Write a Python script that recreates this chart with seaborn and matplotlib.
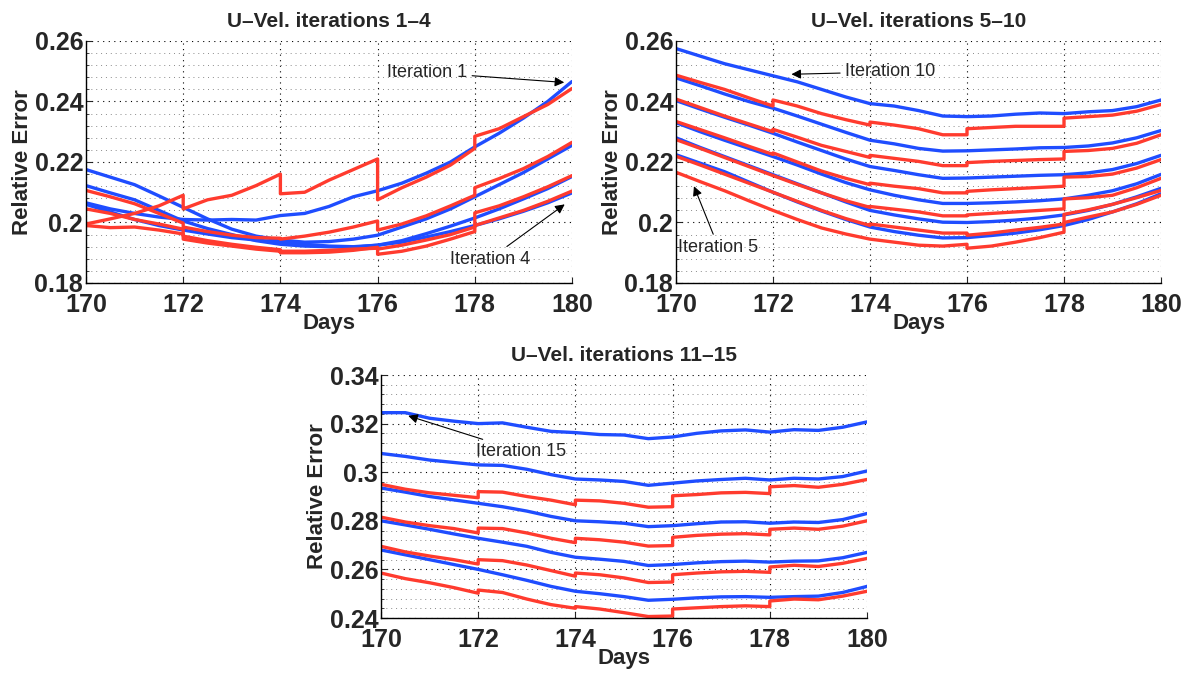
import numpy as np
import pandas as pd
import matplotlib
matplotlib.use("Agg")
import matplotlib.pyplot as plt
import seaborn as sns
from matplotlib import font_manager
from matplotlib.ticker import MultipleLocator, FuncFormatter

# ---- data ----
# blue: half-day samples; red: restarts every 2 days (so the day repeats at the jumps)
days_blue = [170, 170.5, 171, 171.5, 172, 172.5, 173, 173.5, 174, 174.5, 175,
             175.5, 176, 176.5, 177, 177.5, 178, 178.5, 179, 179.5, 180]
days_red = [170, 170.5, 171, 171.5, 172,
            172, 172.5, 173, 173.5, 174,
            174, 174.5, 175, 175.5, 176,
            176, 176.5, 177, 177.5, 178,
            178, 178.5, 179, 179.5, 180]

# panel 1: iterations 1-4
p1_blue_1 = [0.2065, 0.2045, 0.2030, 0.2018, 0.2010, 0.2008, 0.2010, 0.2008, 0.2023, 0.2030, 0.2053,
             0.2085, 0.2105, 0.2130, 0.2163, 0.2200, 0.2250, 0.2295, 0.2345, 0.2400, 0.2466]
p1_blue_2 = [0.2175, 0.2150, 0.2125, 0.2088, 0.2050, 0.2012, 0.1978, 0.1955, 0.1942, 0.1935, 0.1937,
             0.1945, 0.1958, 0.1985, 0.2012, 0.2045, 0.2085, 0.2125, 0.2165, 0.2210, 0.2255]
p1_blue_3 = [0.2122, 0.2098, 0.2075, 0.2040, 0.2005, 0.1980, 0.1960, 0.1940, 0.1928, 0.1922, 0.1920,
             0.1918, 0.1925, 0.1940, 0.1963, 0.1988, 0.2015, 0.2045, 0.2078, 0.2112, 0.2152]
p1_blue_4 = [0.2060, 0.2035, 0.2010, 0.1990, 0.1975, 0.1962, 0.1950, 0.1942, 0.1935, 0.1928, 0.1922,
             0.1920, 0.1925, 0.1935, 0.1952, 0.1970, 0.1990, 0.2012, 0.2037, 0.2065, 0.2098]

p1_red_1 = [0.1995, 0.2012, 0.2030, 0.2055, 0.2090,
            0.2045, 0.2075, 0.2090, 0.2122, 0.2160,
            0.2095, 0.2100, 0.2140, 0.2175, 0.2210,
            0.2075, 0.2115, 0.2150, 0.2190, 0.2245,
            0.2285, 0.2310, 0.2350, 0.2390, 0.2443]
p1_red_2 = [0.2106, 0.2085, 0.2062, 0.2030, 0.1998,
            0.1985, 0.1970, 0.1958, 0.1950, 0.1948,
            0.1945, 0.1955, 0.1968, 0.1985, 0.2005,
            0.1975, 0.1995, 0.2022, 0.2055, 0.2090,
            0.2115, 0.2145, 0.2178, 0.2218, 0.2265]
p1_red_3 = [0.2045, 0.2030, 0.2010, 0.1995, 0.1978,
            0.1945, 0.1932, 0.1922, 0.1912, 0.1905,
            0.1900, 0.1900, 0.1902, 0.1908, 0.1918,
            0.1895, 0.1905, 0.1922, 0.1945, 0.1970,
            0.2032, 0.2055, 0.2085, 0.2118, 0.2155]
p1_red_4 = [0.1990, 0.1983, 0.1985, 0.1975, 0.1962,
            0.1955, 0.1940, 0.1928, 0.1918, 0.1910,
            0.1905, 0.1905, 0.1908, 0.1912, 0.1915,
            0.1912, 0.1925, 0.1942, 0.1960, 0.1985,
            0.1990, 0.2015, 0.2040, 0.2070, 0.2104]

# panel 2: iterations 5-10
p2_blue_10 = [0.2575, 0.2550, 0.2525, 0.2505, 0.2485, 0.2465, 0.2440, 0.2415, 0.2393, 0.2385, 0.2370,
              0.2352, 0.2350, 0.2352, 0.2358, 0.2362, 0.2360, 0.2366, 0.2370, 0.2383, 0.2405]
p2_blue_9 = [0.2478, 0.2452, 0.2425, 0.2400, 0.2378, 0.2352, 0.2325, 0.2298, 0.2272, 0.2260, 0.2245,
             0.2236, 0.2237, 0.2240, 0.2243, 0.2247, 0.2248, 0.2253, 0.2263, 0.2280, 0.2304]
p2_blue_8 = [0.2403, 0.2375, 0.2348, 0.2322, 0.2295, 0.2266, 0.2238, 0.2210, 0.2185, 0.2172, 0.2158,
             0.2146, 0.2147, 0.2150, 0.2153, 0.2156, 0.2158, 0.2164, 0.2175, 0.2195, 0.2222]
p2_blue_7 = [0.2330, 0.2300, 0.2272, 0.2245, 0.2218, 0.2190, 0.2160, 0.2132, 0.2108, 0.2090, 0.2075,
             0.2063, 0.2063, 0.2065, 0.2068, 0.2072, 0.2078, 0.2090, 0.2105, 0.2128, 0.2159]
p2_blue_6 = [0.2280, 0.2248, 0.2218, 0.2188, 0.2158, 0.2128, 0.2098, 0.2068, 0.2040, 0.2025, 0.2012,
             0.2001, 0.2000, 0.2003, 0.2008, 0.2015, 0.2025, 0.2040, 0.2060, 0.2085, 0.2113]
p2_blue_5 = [0.2224, 0.2196, 0.2168, 0.2134, 0.2100, 0.2068, 0.2038, 0.2010, 0.1985, 0.1970, 0.1958,
             0.1949, 0.1950, 0.1957, 0.1965, 0.1976, 0.1990, 0.2010, 0.2035, 0.2062, 0.2095]

p2_red_a = [0.2487, 0.2463, 0.2440, 0.2412, 0.2385,
            0.2405, 0.2385, 0.2360, 0.2340, 0.2322,
            0.2332, 0.2322, 0.2310, 0.2290, 0.2290,
            0.2310, 0.2314, 0.2318, 0.2318, 0.2318,
            0.2345, 0.2350, 0.2355, 0.2368, 0.2390]
p2_red_b = [0.2408, 0.2380, 0.2352, 0.2326, 0.2300,
            0.2308, 0.2282, 0.2255, 0.2235, 0.2215,
            0.2222, 0.2212, 0.2202, 0.2188, 0.2188,
            0.2198, 0.2202, 0.2205, 0.2208, 0.2210,
            0.2235, 0.2238, 0.2245, 0.2262, 0.2290]
p2_red_c = [0.2334, 0.2307, 0.2280, 0.2252, 0.2225,
            0.2230, 0.2200, 0.2170, 0.2146, 0.2125,
            0.2130, 0.2120, 0.2112, 0.2098, 0.2098,
            0.2103, 0.2108, 0.2112, 0.2116, 0.2120,
            0.2150, 0.2152, 0.2160, 0.2180, 0.2208]
p2_red_d = [0.2274, 0.2245, 0.2215, 0.2185, 0.2155,
            0.2155, 0.2126, 0.2098, 0.2072, 0.2050,
            0.2053, 0.2044, 0.2035, 0.2022, 0.2022,
            0.2025, 0.2030, 0.2035, 0.2040, 0.2045,
            0.2078, 0.2082, 0.2090, 0.2115, 0.2146]
p2_red_e = [0.2219, 0.2190, 0.2160, 0.2130, 0.2100,
            0.2100, 0.2070, 0.2040, 0.2013, 0.1990,
            0.1995, 0.1985, 0.1975, 0.1965, 0.1965,
            0.1958, 0.1965, 0.1975, 0.1984, 0.1995,
            0.2027, 0.2042, 0.2060, 0.2082, 0.2106]
p2_red_f = [0.2166, 0.2135, 0.2105, 0.2072, 0.2040,
            0.2040, 0.2010, 0.1982, 0.1962, 0.1945,
            0.1945, 0.1935, 0.1925, 0.1922, 0.1928,
            0.1915, 0.1922, 0.1935, 0.1950, 0.1968,
            0.2000, 0.2018, 0.2035, 0.2060, 0.2090]

# panel 3: iterations 11-15
p3_blue_15 = [0.3245, 0.3245, 0.3222, 0.3210, 0.3200, 0.3203, 0.3185, 0.3168, 0.3163, 0.3155, 0.3153,
              0.3138, 0.3145, 0.3160, 0.3170, 0.3174, 0.3165, 0.3175, 0.3172, 0.3185, 0.3207]
p3_blue_14 = [0.3077, 0.3065, 0.3050, 0.3040, 0.3030, 0.3028, 0.3012, 0.2990, 0.2972, 0.2968, 0.2962,
              0.2946, 0.2955, 0.2964, 0.2970, 0.2975, 0.2968, 0.2975, 0.2972, 0.2982, 0.3005]
p3_blue_13 = [0.2935, 0.2918, 0.2900, 0.2886, 0.2872, 0.2858, 0.2840, 0.2818, 0.2800, 0.2796, 0.2790,
              0.2776, 0.2780, 0.2788, 0.2795, 0.2796, 0.2790, 0.2795, 0.2793, 0.2805, 0.2830]
p3_blue_12 = [0.2800, 0.2783, 0.2765, 0.2746, 0.2728, 0.2712, 0.2695, 0.2670, 0.2650, 0.2642, 0.2633,
              0.2616, 0.2620, 0.2627, 0.2632, 0.2634, 0.2630, 0.2634, 0.2635, 0.2648, 0.2670]
p3_blue_11 = [0.2680, 0.2660, 0.2640, 0.2620, 0.2600, 0.2578, 0.2555, 0.2530, 0.2510, 0.2500, 0.2488,
              0.2473, 0.2477, 0.2483, 0.2487, 0.2488, 0.2485, 0.2488, 0.2490, 0.2505, 0.2530]

p3_red_a = [0.2950, 0.2930, 0.2915, 0.2905, 0.2895,
            0.2920, 0.2918, 0.2900, 0.2885, 0.2866,
            0.2885, 0.2882, 0.2872, 0.2856, 0.2858,
            0.2903, 0.2908, 0.2915, 0.2917, 0.2912,
            0.2940, 0.2945, 0.2938, 0.2950, 0.2970]
p3_red_b = [0.2815, 0.2795, 0.2780, 0.2768, 0.2750,
            0.2770, 0.2768, 0.2750, 0.2728, 0.2710,
            0.2728, 0.2722, 0.2712, 0.2696, 0.2698,
            0.2732, 0.2740, 0.2745, 0.2747, 0.2742,
            0.2765, 0.2770, 0.2765, 0.2778, 0.2800]
p3_red_c = [0.2695, 0.2672, 0.2655, 0.2640, 0.2622,
            0.2640, 0.2636, 0.2618, 0.2595, 0.2572,
            0.2585, 0.2578, 0.2565, 0.2546, 0.2548,
            0.2578, 0.2585, 0.2590, 0.2592, 0.2588,
            0.2610, 0.2617, 0.2612, 0.2625, 0.2645]
p3_red_d = [0.2585, 0.2562, 0.2545, 0.2525, 0.2502,
            0.2515, 0.2505, 0.2478, 0.2455, 0.2440,
            0.2447, 0.2437, 0.2422, 0.2406, 0.2408,
            0.2437, 0.2442, 0.2447, 0.2450, 0.2447,
            0.2470, 0.2478, 0.2475, 0.2490, 0.2510]

titles = ["U\u2013Vel. iterations 1\u20134", "U\u2013Vel. iterations 5\u201310", "U\u2013Vel. iterations 11\u201315"]
ylims = [(0.18, 0.26), (0.18, 0.26), (0.24, 0.34)]

BLUE = "#1f4dff"
RED = "#ff3b2e"


def has_font(name):
    try:
        font_manager.findfont(name, fallback_to_default=False)
        return True
    except ValueError:
        return False


def build_frame(blues, reds):
    rows = []
    for i, ys in enumerate(blues):
        for d, v in zip(days_blue, ys):
            rows.append({"day": d, "err": v, "line": f"b{i}", "kind": "blue"})
    for i, ys in enumerate(reds):
        for d, v in zip(days_red, ys):
            rows.append({"day": d, "err": v, "line": f"r{i}", "kind": "red"})
    return pd.DataFrame(rows)


sns.set_style("white")
plt.rcParams["font.family"] = ["Liberation Sans", "DejaVu Sans"]
narrow = has_font("Liberation Sans Narrow")
ann_family = ["Liberation Sans Narrow", "Liberation Sans"] if narrow else ["Liberation Sans"]
ann_size = 15 if narrow else 13

fig = plt.figure(figsize=(11.88, 6.77), dpi=100)
W, H = 1188, 677
rects = [(86, 41, 572, 283), (676, 41, 1161, 283), (381, 375, 867, 618)]
frames = [
    build_frame([p1_blue_1, p1_blue_2, p1_blue_3, p1_blue_4],
                [p1_red_1, p1_red_2, p1_red_3, p1_red_4]),
    build_frame([p2_blue_10, p2_blue_9, p2_blue_8, p2_blue_7, p2_blue_6, p2_blue_5],
                [p2_red_a, p2_red_b, p2_red_c, p2_red_d, p2_red_e, p2_red_f]),
    build_frame([p3_blue_15, p3_blue_14, p3_blue_13, p3_blue_12, p3_blue_11],
                [p3_red_a, p3_red_b, p3_red_c, p3_red_d]),
]

axes = []
for (x0, y0, x1, y1), df, title, ylim in zip(rects, frames, titles, ylims):
    ax = fig.add_axes([x0 / W, 1 - y1 / H, (x1 - x0) / W, (y1 - y0) / H])
    for kind, col in [("blue", BLUE), ("red", RED)]:
        sub = df[df["kind"] == kind]
        sns.lineplot(data=sub, x="day", y="err", units="line", estimator=None,
                     sort=False, color=col, lw=2.4, ax=ax, legend=False)
    ax.set_xlim(170, 180)
    ax.set_ylim(*ylim)
    ax.xaxis.set_major_locator(MultipleLocator(2))
    ax.yaxis.set_major_locator(MultipleLocator(0.02))
    ax.yaxis.set_minor_locator(MultipleLocator(0.004))
    ax.yaxis.set_major_formatter(FuncFormatter(lambda v, p: f"{v:g}"))
    ax.grid(True, which="major", linestyle=(0, (1, 4)), color="black", linewidth=0.8)
    ax.grid(True, which="minor", axis="y", linestyle=(0, (1, 4)), color="#8a8a8a", linewidth=0.7)
    ax.set_axisbelow(True)
    for s in ["top", "right"]:
        ax.spines[s].set_visible(False)
    for s in ["left", "bottom"]:
        ax.spines[s].set_color("black")
        ax.spines[s].set_linewidth(1.0)
    ax.tick_params(axis="both", which="major", direction="in", length=4, width=0.8,
                   labelsize=18, left=True, bottom=True)
    ax.tick_params(axis="y", which="minor", direction="in", length=2, width=0.6, left=True)
    ax.tick_params(axis="x", pad=7)
    ax.tick_params(axis="y", pad=2)
    for lab in ax.get_xticklabels() + ax.get_yticklabels():
        lab.set_fontweight("bold")
    ax.set_xlabel("Days", fontsize=16, fontweight="bold", labelpad=-3)
    ax.set_ylabel("Relative Error", fontsize=16, fontweight="bold", labelpad=1)
    ax.set_title(title, fontsize=15, fontweight="bold", pad=10)
    axes.append(ax)

arrow = dict(arrowstyle="-|>", color="black", lw=0.8, mutation_scale=14, shrinkA=1, shrinkB=0)
txt = dict(fontsize=ann_size, family=ann_family, va="center", ha="left")

axes[0].annotate("Iteration 1", xy=(179.84, 0.2463), xytext=(176.2, 0.2496), arrowprops=arrow, **txt)
axes[0].annotate("Iteration 4", xy=(179.85, 0.2060), xytext=(177.48, 0.1879), arrowprops=arrow, **txt)
axes[1].annotate("Iteration 10", xy=(172.38, 0.2490), xytext=(173.48, 0.2498), arrowprops=arrow, **txt)
axes[1].annotate("Iteration 5", xy=(170.37, 0.2120), xytext=(170.05, 0.1918), arrowprops=arrow, **txt)
axes[2].annotate("Iteration 15", xy=(170.56, 0.3232), xytext=(171.96, 0.3085), arrowprops=arrow, **txt)

fig.savefig("out.png", dpi=100)
